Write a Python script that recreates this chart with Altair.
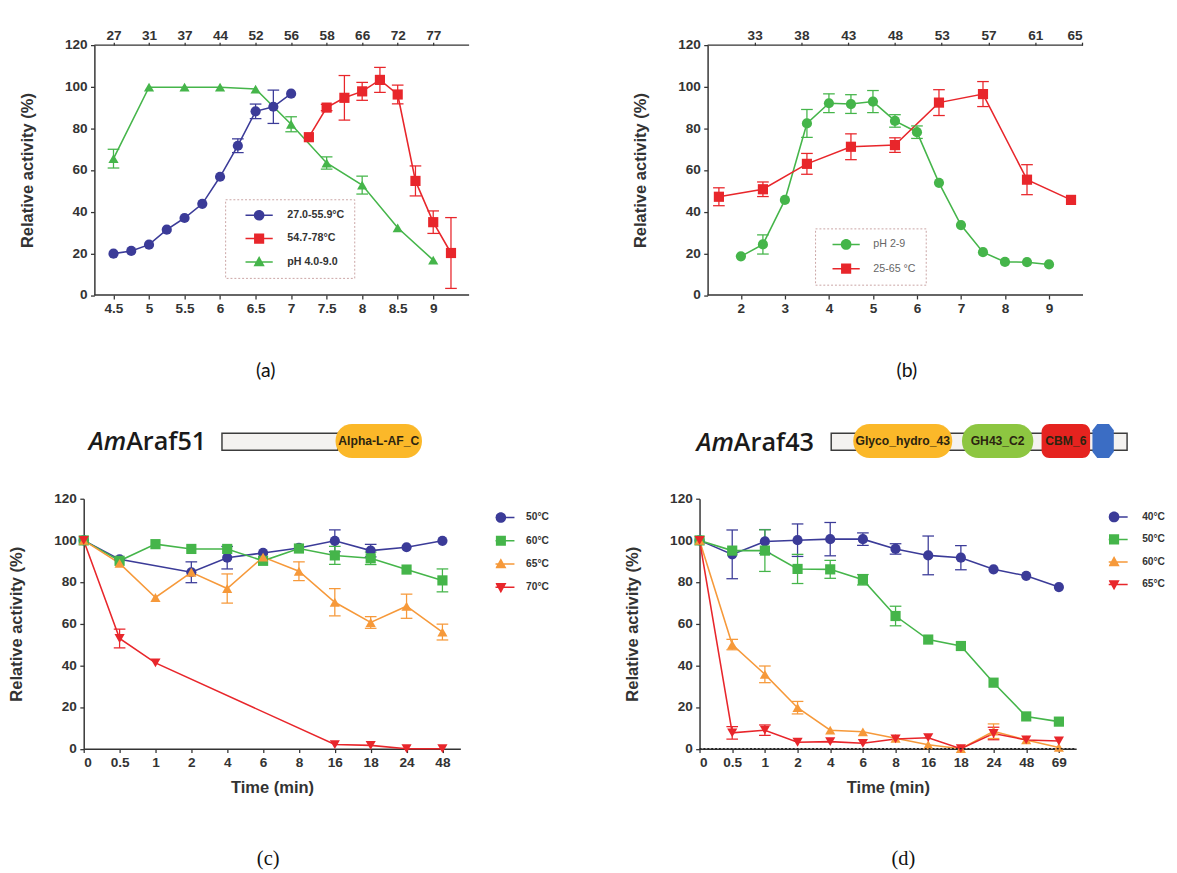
import json
import altair as alt
import pandas as pd

SANS = "Liberation Sans"
INK = "#333333"
BLUE = "#3b3b98"
RED = "#e8262b"
GREEN = "#45b54a"
ORANGE = "#f6993a"

# ---------------- panel (a) ----------------
a_names = ["27.0-55.9°C", "54.7-78°C", "pH 4.0-9.0"]
a_blue_x = [4.5, 4.75, 5, 5.25, 5.5, 5.75, 6, 6.25, 6.5, 6.75, 7]
a_blue_y = [19.9, 21.2, 24.2, 31.4, 37.0, 43.8, 56.8, 71.7, 88.2, 90.4, 96.7]
a_blue_e = [0, 0, 0, 0, 0, 0, 0, 3.3, 3.5, 8.0, 0]
a_red_x = [7.25, 7.5, 7.75, 8, 8.25, 8.5, 8.75, 9, 9.25]
a_red_y = [75.8, 90.0, 94.7, 97.8, 103.3, 96.3, 54.8, 35.0, 20.2]
a_red_e = [0, 1.5, 10.7, 4.3, 6.0, 4.5, 7.2, 5.4, 17.0]
a_green_x = [4.5, 5, 5.5, 6, 6.5, 7, 7.5, 8, 8.5, 9]
a_green_y = [65.5, 99.8, 99.8, 99.8, 98.9, 82.0, 63.4, 52.8, 32.3, 16.8]
a_green_e = [4.5, 0, 0, 0, 0, 3.6, 2.9, 4.3, 0, 0]
a_ticks = [4.5, 5, 5.5, 6, 6.5, 7, 7.5, 8, 8.5, 9]
a_top_labels = ["27", "31", "37", "44", "52", "56", "58", "66", "72", "77"]

# ---------------- panel (b) ----------------
b_names = ["pH 2-9", "25-65 °C"]
b_green_x = [2, 2.5, 3, 3.5, 4, 4.5, 5, 5.5, 6, 6.5, 7, 7.5, 8, 8.5, 9]
b_green_y = [18.6, 24.3, 45.7, 82.4, 92.1, 91.7, 92.9, 83.6, 78.2, 53.9, 33.6, 20.6, 15.9, 15.8, 14.7]
b_green_e = [0, 4.6, 0, 6.7, 4.5, 4.5, 5.3, 3.0, 3.0, 0, 0, 0, 0, 0, 0]
b_red_x = [1.5, 2.5, 3.5, 4.5, 5.5, 6.5, 7.5, 8.5, 9.5]
b_red_y = [47.2, 50.8, 63.0, 71.2, 72.0, 92.4, 96.5, 55.4, 45.7]
b_red_e = [4.3, 3.5, 5.0, 6.2, 3.5, 6.2, 6.0, 7.2, 0]
b_ticks = [2, 3, 4, 5, 6, 7, 8, 9]
b_top_labels = ["33", "38", "43", "48", "53", "57", "61", "65"]
b_top_pos = [2.3125, 3.375, 4.4375, 5.5, 6.5625, 7.625, 8.6875, 9.75]

# ---------------- panel (c) ----------------
c_names = ["50°C", "60°C", "65°C", "70°C"]
c_time_labels = ["0", "0.5", "1", "2", "4", "6", "8", "16", "18", "24", "48"]
c_blue_i = [0, 1, 3, 4, 5, 6, 7, 8, 9, 10]
c_blue_y = [100, 90.9, 84.7, 91.7, 94.0, 96.4, 99.8, 95.1, 96.7, 99.8]
c_blue_e = [0, 0, 5.0, 5.4, 0, 0, 5.2, 3.0, 0, 0]
c_green_i = list(range(11))
c_green_y = [100, 90.2, 98.2, 95.9, 95.9, 90.2, 96.1, 92.8, 91.4, 86.0, 80.8]
c_green_e = [0, 0, 0, 0, 0, 0, 0, 4.3, 3.0, 0, 5.5]
c_orange_i = list(range(11))
c_orange_y = [100, 89.0, 72.6, 84.7, 76.9, 92.0, 85.2, 70.3, 60.6, 68.4, 56.0]
c_orange_e = [0, 0, 0, 0, 7.0, 0, 4.5, 6.5, 2.8, 5.8, 3.8]
c_red_i = [0, 1, 2, 7, 8, 9, 10]
c_red_y = [100, 52.9, 41.2, 2.0, 1.6, 0, 0]
c_red_e = [0, 4.5, 0, 0, 0, 0, 0]

# ---------------- panel (d) ----------------
d_names = ["40°C", "50°C", "60°C", "65°C"]
d_time_labels = ["0", "0.5", "1", "2", "4", "6", "8", "16", "18", "24", "48", "69"]
d_i = list(range(12))
d_blue_y = [100, 93.3, 99.5, 100.1, 100.6, 100.6, 95.9, 92.8, 91.7, 86.1, 83.0, 77.6]
d_blue_e = [0, 11.7, 5.7, 7.8, 8.0, 3.0, 2.5, 9.3, 5.8, 0, 0, 0]
d_green_y = [100, 95.1, 95.1, 86.3, 86.1, 81.1, 63.7, 52.4, 49.3, 31.7, 15.5, 13.0]
d_green_e = [0, 0, 10.0, 7.0, 4.3, 2.5, 4.7, 0, 0, 0, 0, 0]
d_orange_y = [100, 50.0, 35.7, 19.7, 8.9, 8.1, 5.0, 1.9, 0, 8.4, 4.2, 0.6]
d_orange_e = [0, 2.5, 4.0, 3.0, 0, 0, 0, 0, 0, 3.5, 0, 0]
d_red_y = [100, 7.6, 8.9, 3.1, 3.4, 2.6, 4.7, 5.3, 0, 7.3, 4.2, 3.7]
d_red_e = [0, 3.0, 2.5, 0, 0, 0, 0, 0, 0, 3.0, 0, 0]

# ---------------- domain schematics (schematic units, 0-100 = protein) ----------------
c_protein = ["Am", "Araf51"]
c_bar = [0, 57.9]
c_dom_names = ["Alpha-L-AF_C"]
c_dom_start = [56.8]
c_dom_end = [100]
d_protein = ["Am", "Araf43"]
d_bar = [0, 100]
d_dom_names = ["Glyco_hydro_43", "GH43_C2", "CBM_6"]
d_dom_start = [7.45, 44.2, 71.1]
d_dom_end = [40.9, 68.3, 87.5]
d_hex_pos = [91.9]
dom_colors = {"Alpha-L-AF_C": "#fbb829", "Glyco_hydro_43": "#fbb829",
              "GH43_C2": "#8dc641", "CBM_6": "#e5231f"}

# legend glyphs: thin bar (line) + marker, all wound clockwise so the union fills
BAR = "M-2.55,-0.14H2.55V0.14H-2.55Z"
LEG_PATH = {
    "circle": BAR + "M-1,0A1,1 0 1,1 1,0A1,1 0 1,1 -1,0Z",
    "square": BAR + "M-0.95,-0.95H0.95V0.95H-0.95Z",
    "triangle-up": BAR + "M0,-1.1L1.05,0.8H-1.05Z",
    "triangle-down": BAR + "M0,1.1L-1.05,-0.8H1.05Z",
}
HEX = "M-0.55,-1.6L0.55,-1.6L1,-1L1,1L0.55,1.6L-0.55,1.6L-1,1L-1,-1Z"

YSCALE = alt.Scale(domain=[0, 120], nice=False, zero=False)
DY = -7  # vertical shift of the domain schematics above the lower panels


def series_frame(names, xs, ys, es):
    rows = []
    for n, x, y, e in zip(names, xs, ys, es):
        for xi, yi, ei in zip(x, y, e):
            rows.append({"s": n, "x": xi, "y": yi, "e": ei, "lo": yi - ei, "hi": yi + ei})
    return pd.DataFrame(rows)


def y_axis(offset):
    return alt.Axis(title="Relative activity (%)", values=list(range(0, 121, 10)),
                    labelExpr="datum.value % 20 === 0 ? datum.label : ''",
                    tickSize={"condition": {"test": "datum.value % 20 === 0", "value": 4}, "value": 2.5},
                    labelPadding=3.5, titlePadding=29, offset=offset, labelOverlap=False)


def yenc(field):
    return alt.Y(field, scale=YSCALE)


def data_layers(df, names, colors, shapes, xscale, xaxis, yaxis, legend_kw):
    base = alt.Chart(df)
    col = alt.Color("s:N", scale=alt.Scale(domain=names, range=colors), legend=None)
    X = alt.X("x:Q", scale=xscale, axis=None)
    line = base.mark_line(strokeWidth=1.6).encode(
        x=alt.X("x:Q", scale=xscale, axis=xaxis),
        y=alt.Y("y:Q", scale=YSCALE, axis=yaxis),
        color=col)
    errs = base.transform_filter("datum.e > 0")
    rule = errs.mark_rule(strokeWidth=1.3).encode(x=X, y=yenc("lo:Q"), y2="hi:Q", color=col)
    caps = errs.transform_fold(["lo", "hi"], as_=["k", "v"]).mark_tick(
        orient="horizontal", size=12, thickness=1.3, opacity=1).encode(x=X, y=yenc("v:Q"), color=col)
    pts = base.mark_point(filled=True, size=110, opacity=1).encode(
        x=X, y=yenc("y:Q"), color=col,
        shape=alt.Shape("s:N", scale=alt.Scale(domain=names, range=shapes), legend=None))
    lg = alt.Legend(**legend_kw)
    leg = base.transform_filter("false").mark_point(filled=True, size=121, opacity=1).encode(
        color=alt.Color("s:N", scale=alt.Scale(domain=names, range=colors), legend=lg),
        shape=alt.Shape("s:N", scale=alt.Scale(domain=names, range=[LEG_PATH[s] for s in shapes]),
                        legend=lg))
    return [line, rule, caps, pts, leg]


def legend_kw(x, y, pad, symoff, laboff, rowpad, boxed, weight, color, size):
    kw = dict(orient="none", legendX=x, legendY=y, title=None, direction="vertical", columns=1,
              padding=pad, symbolSize=121, symbolOffset=symoff, labelOffset=laboff,
              clipHeight=13, rowPadding=rowpad, labelFont=SANS, labelFontSize=size,
              labelFontWeight=weight, labelColor=color, symbolOpacity=1, symbolStrokeWidth=0)
    if boxed:
        kw.update(strokeColor="#c9a3a3", fillColor="white")
    return kw


def caption(text, dx, offset, font, size):
    return alt.TitleParams(text, orient="bottom", anchor="middle", frame="group", font=font,
                           fontSize=size, fontWeight="normal", color="#111111", dx=dx, offset=offset)


def diagram(xscale, xmax, d0, d1, bar, names, starts, ends, protein, split_x, name_y, hexes):
    k = xmax / (d1 - d0)
    to_x = lambda f: f"(datum.{f} - ({d0})) * {k}"
    X = lambda f: alt.X(f + ":Q", scale=xscale, axis=None)
    dfill = alt.Fill("name:N", scale=alt.Scale(domain=list(dom_colors.keys()),
                                               range=list(dom_colors.values())), legend=None)
    dom_df = pd.DataFrame({"name": names, "start": starts, "end": ends})
    dom = alt.Chart(dom_df).transform_calculate(
        xs=to_x("start"), xe=to_x("end"), xm=f"((datum.start + datum.end) / 2 - ({d0})) * {k}")
    layers = [
        alt.Chart(pd.DataFrame({"start": [bar[0]], "end": [bar[1]]})).transform_calculate(
            xs=to_x("start"), xe=to_x("end")).mark_rect(
            fill="#f4f2f0", stroke="#3c3c3c", strokeWidth=1.5).encode(
            x=X("xs"), x2="xe:Q", y=alt.value(-60.5 + DY), y2=alt.value(-43 + DY)),
        dom.transform_filter("datum.name !== 'CBM_6'").mark_rect(cornerRadius=17).encode(
            x=X("xs"), x2="xe:Q", y=alt.value(-70 + DY), y2=alt.value(-35 + DY), fill=dfill),
        dom.transform_filter("datum.name === 'CBM_6'").mark_rect(cornerRadius=8).encode(
            x=X("xs"), x2="xe:Q", y=alt.value(-70 + DY), y2=alt.value(-35 + DY), fill=dfill),
        dom.mark_text(font=SANS, fontSize=12.5, fontWeight="bold", color="#2b2410").encode(
            x=X("xm"), y=alt.value(-52 + DY), text="name:N"),
    ]
    if hexes:
        layers.append(alt.Chart(pd.DataFrame({"pos": hexes})).transform_calculate(
            xp=to_x("pos")).mark_point(
            shape=HEX, size=484, filled=True, color="#3b6dc4", opacity=1).encode(
            x=X("xp"), y=alt.value(-52.5 + DY)))
    pdf = pd.DataFrame({"a": [protein[0]], "b": [protein[1]]})
    layers.append(alt.Chart(pdf).mark_text(font="Open Sans", fontSize=26, fontStyle="italic",
                                           fontWeight=600, align="right", baseline="middle",
                                           color="#1a1a1a").encode(
        x=alt.value(split_x), y=alt.value(name_y + DY), text="a:N"))
    layers.append(alt.Chart(pdf).mark_text(font="Open Sans", fontSize=26, fontWeight=600,
                                           align="left", baseline="middle", color="#1a1a1a").encode(
        x=alt.value(split_x), y=alt.value(name_y + DY), text="b:N"))
    return layers


RES = dict(shape="independent", color="independent", fill="independent")

# ---------- (a) ----------
a_df = series_frame(a_names, [a_blue_x, a_red_x, a_green_x], [a_blue_y, a_red_y, a_green_y],
                    [a_blue_e, a_red_e, a_green_e])
a_xs = alt.Scale(domain=[4.081, 9.505], nice=False, zero=False)
a_bottom = alt.Axis(orient="bottom", values=a_ticks, format="~g", domain=False, title=None, labelPadding=3,
                    labelOverlap=False)
a_topaxis = alt.Axis(orient="top", values=a_ticks, domain=False, title=None, tickSize=3, labelPadding=0,
                     labelOverlap=False,
                     labelExpr=json.dumps(a_top_labels) + "[round((datum.value - 4.5) * 2)]")
frame_a = alt.Chart(pd.DataFrame({"x0": [4.231], "x1": [9.505]}))
a_top_rule = frame_a.mark_rule(color=INK, strokeWidth=1.5).encode(
    x=alt.X("x0:Q", scale=a_xs, axis=a_topaxis), x2="x1:Q", y=alt.Y(datum=120, scale=YSCALE))
a_bot_rule = frame_a.mark_rule(color=INK, strokeWidth=1.5).encode(
    x=alt.X("x0:Q", scale=a_xs, axis=None), x2="x1:Q", y=alt.Y(datum=0, scale=YSCALE))
A = alt.layer(a_top_rule, a_bot_rule, *data_layers(
    a_df, a_names, [BLUE, RED, GREEN], ["circle", "square", "triangle-up"], a_xs, a_bottom, y_axis(-11),
    legend_kw(145.7, 158.8, 10, 19.5, 23.5, 11, True, "bold", INK, 11))
).resolve_scale(**RES).resolve_axis(x="independent").properties(
    width=397, height=257.5, title=caption("(a)", -11, 47, "Lato", 20))

# ---------- (b) ----------
b_df = series_frame(b_names, [b_green_x, b_red_x], [b_green_y, b_red_y], [b_green_e, b_red_e])
b_xs = alt.Scale(domain=[1.0605, 9.772], nice=False, zero=False)
b_bottom = alt.Axis(orient="bottom", values=b_ticks, format="~g", domain=False, title=None, labelPadding=3,
                    labelOverlap=False)
b_topaxis = alt.Axis(orient="top", values=b_top_pos, domain=False, title=None, tickSize=3, labelPadding=0,
                     labelOverlap=False,
                     labelExpr=json.dumps(b_top_labels) + "[round((datum.value - 1.25) / 1.0625) - 1]")
frame_b = alt.Chart(pd.DataFrame({"x0": [1.2436], "x1": [9.772]}))
b_top_rule = frame_b.mark_rule(color=INK, strokeWidth=1.5).encode(
    x=alt.X("x0:Q", scale=b_xs, axis=b_topaxis), x2="x1:Q", y=alt.Y(datum=120, scale=YSCALE))
b_bot_rule = frame_b.mark_rule(color=INK, strokeWidth=1.5).encode(
    x=alt.X("x0:Q", scale=b_xs, axis=None), x2="x1:Q", y=alt.Y(datum=0, scale=YSCALE))
B = alt.layer(b_top_rule, b_bot_rule, *data_layers(
    b_df, b_names, [GREEN, RED], ["circle", "square"], b_xs, b_bottom, y_axis(-8.3),
    legend_kw(119, 188.8, 10, 16.5, 22.5, 12, True, "normal", "#666666", 11))
).resolve_scale(**RES).resolve_axis(x="independent").properties(
    width=395, height=257.5, title=caption("(b)", 16, 47, "Lato", 20))

# ---------- (c) ----------
c_df = series_frame(c_names, [c_blue_i, c_green_i, c_orange_i, c_red_i],
                    [c_blue_y, c_green_y, c_orange_y, c_red_y], [c_blue_e, c_green_e, c_orange_e, c_red_e])
c_xs = alt.Scale(domain=[0, 10.5], nice=False, zero=False)
c_bottom = alt.Axis(orient="bottom", values=list(range(11)), title="Time (min)", titlePadding=11,
                    labelPadding=3, labelOverlap=False,
                    labelExpr=json.dumps(c_time_labels) + "[datum.value]")
C = alt.layer(
    *diagram(c_xs, 10.5, -69.13, 119.2, c_bar, c_dom_names, c_dom_start, c_dom_end, c_protein, 43.7, -51, []),
    *data_layers(c_df, c_names, [BLUE, GREEN, ORANGE, RED], ["circle", "square", "triangle-up", "triangle-down"],
                 c_xs, c_bottom, y_axis(0), legend_kw(424.2, 12.8, 0, 0, 20.5, 11, False, "bold", INK, 10.5))
).resolve_scale(**RES).resolve_axis(x="independent").properties(
    width=388, height=257.5, title=caption("(c)", -4, 55, "Liberation Serif", 21))

# ---------- (d) ----------
d_df = series_frame(d_names, [d_i] * 4, [d_blue_y, d_green_y, d_orange_y, d_red_y],
                    [d_blue_e, d_green_e, d_orange_e, d_red_e])
d_xs = alt.Scale(domain=[0, 11.53], nice=False, zero=False)
d_bottom = alt.Axis(orient="bottom", values=list(range(12)), title="Time (min)", titlePadding=11,
                    labelPadding=3, labelOverlap=False,
                    labelExpr=json.dumps(d_time_labels) + "[datum.value]")
d_base = alt.Chart(pd.DataFrame({"x0": [0], "x1": [11.53]})).mark_rule(
    color="#222222", strokeWidth=1.5, strokeDash=[2, 2]).encode(
    x=alt.X("x0:Q", scale=d_xs, axis=None), x2="x1:Q", y=alt.Y(datum=0, scale=YSCALE))
D = alt.layer(
    *diagram(d_xs, 11.53, -44.5, 82.8, d_bar, d_dom_names, d_dom_start, d_dom_end, d_protein, 35.3, -50.6,
             d_hex_pos),
    *data_layers(d_df, d_names, [BLUE, GREEN, ORANGE, RED], ["circle", "square", "triangle-up", "triangle-down"],
                 d_xs, d_bottom, y_axis(0), legend_kw(421.5, 12.2, 0, 0, 23.5, 10.2, False, "bold", INK, 10.5)),
    d_base,
).resolve_scale(**RES).resolve_axis(x="independent").properties(
    width=388, height=257.5, title=caption("(d)", 16, 55, "Liberation Serif", 21))

chart = alt.concat(
    A, B, C, D, columns=2, spacing={"row": 209.3, "column": 237.4}, bounds="flush"
).resolve_scale(
    x="independent", y="independent", color="independent", shape="independent", fill="independent"
).properties(
    padding={"left": 0, "top": 8, "right": 4, "bottom": 4}, background="white"
).configure_view(stroke=None).configure_axis(
    labelFont=SANS, labelFontSize=14, labelFontWeight="bold", labelColor=INK, labelOverlap=False,
    titleFont=SANS, titleFontSize=17, titleFontWeight="bold", titleColor=INK,
    domainColor=INK, domainWidth=1.5, tickColor=INK, tickWidth=1.3, tickSize=4, grid=False
).configure_legend(strokeDash=[2, 2], strokeWidth=1)

chart.save("out.html", embed_options={"renderer": "svg", "actions": False})
